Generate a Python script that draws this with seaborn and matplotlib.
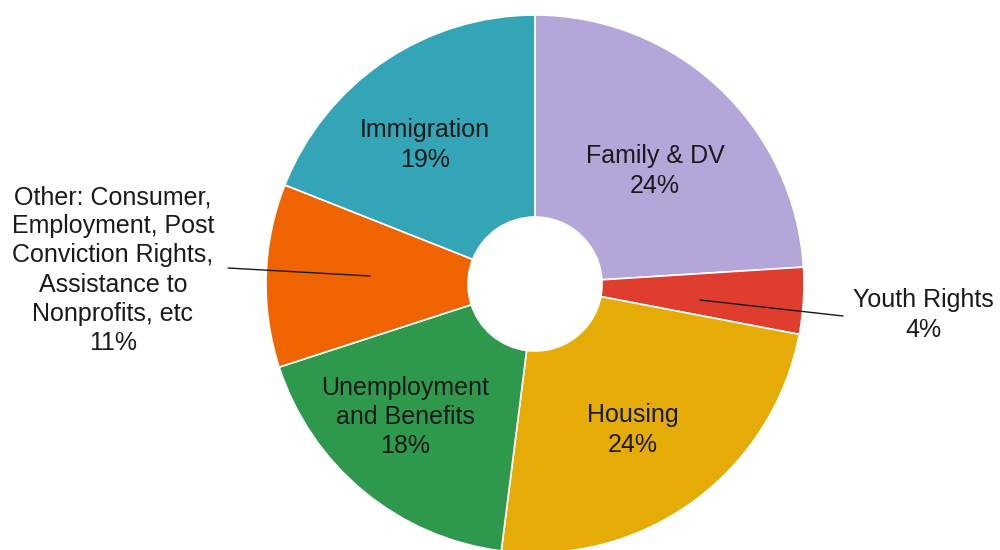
import matplotlib
matplotlib.use("Agg")
import matplotlib.pyplot as plt
import seaborn as sns

# Case categories and their shares (percent), clockwise from 12 o'clock
categories = [
    "Family & DV",
    "Youth Rights",
    "Housing",
    "Unemployment\nand Benefits",
    "Other: Consumer,\nEmployment, Post\nConviction Rights,\nAssistance to\nNonprofits, etc",
    "Immigration",
]
shares = [24, 4, 24, 18, 11, 19]
colors = ["#B4A6D8", "#DF3E2E", "#E5AB06", "#2E984C", "#EF6300", "#34A5B6"]

sns.set_theme(style="white")
plt.rcParams["font.family"] = ["Liberation Sans", "DejaVu Sans"]

W, H = 1000, 550
fig = plt.figure(figsize=(W / 100, H / 100), dpi=100)
ax = fig.add_axes([0, 0, 1, 1])

cx, cy = 535, H - 284
r_out, r_in = 269, 67

ax.pie(
    shares,
    colors=colors,
    startangle=90,
    counterclock=False,
    center=(cx, cy),
    radius=r_out,
    wedgeprops=dict(width=r_out - r_in, edgecolor="white", linewidth=1.2),
)
ax.set_xlim(0, W)
ax.set_ylim(0, H)
ax.set_aspect("equal")
ax.axis("off")

fs = 18
txt = dict(ha="center", va="center", fontsize=fs, color="#1a1a1a", linespacing=1.27)

def label(i):
    return f"{categories[i]}\n{shares[i]}%"

# Labels inside the wedges
ax.text(655, H - 171, label(0), **txt)
ax.text(633, H - 430, label(2), **txt)
ax.text(405, H - 417, label(3), **txt)
ax.text(425, H - 145, label(5), **txt)

# Labels outside the ring, each with a leader line into its wedge
ax.text(923, H - 315, label(1), **txt)
ax.plot([843, 700], [H - 316, H - 300], color="#1a1a1a", lw=1)
ax.text(113, H - 270, label(4), **txt)
ax.plot([228, 370], [H - 268, H - 276], color="#1a1a1a", lw=1)

fig.savefig("out.png", dpi=100, facecolor="white")
